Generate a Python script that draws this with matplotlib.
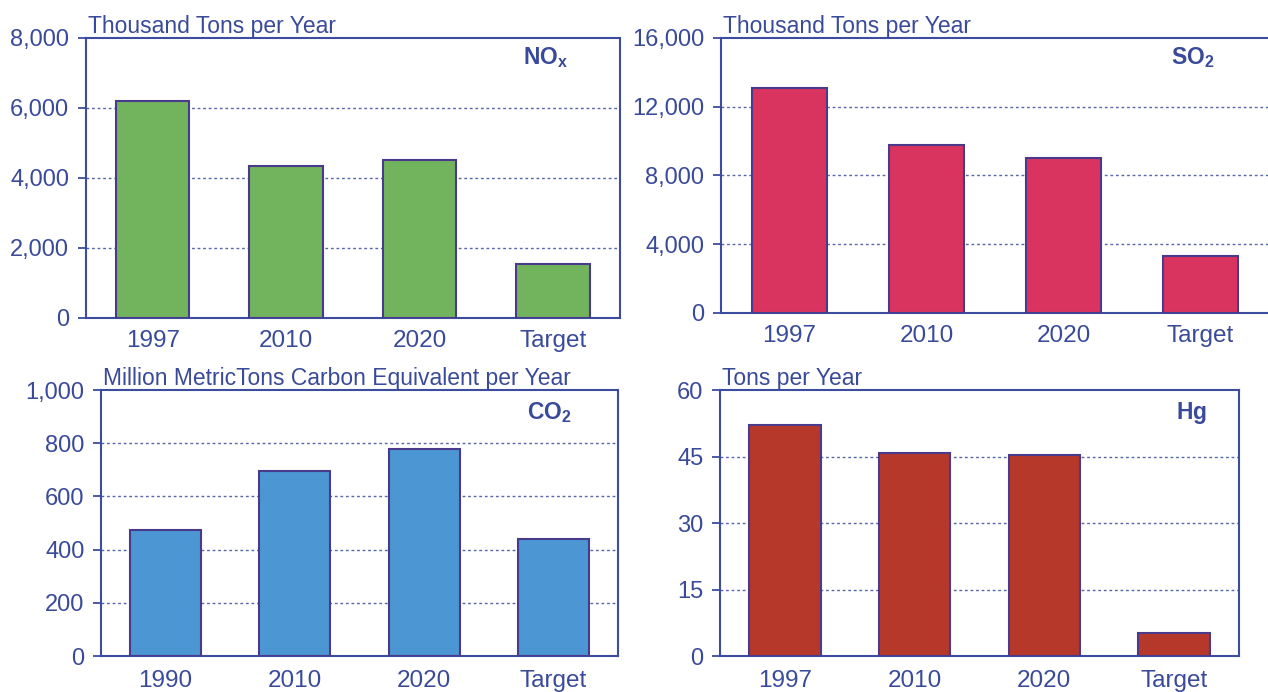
import matplotlib
matplotlib.use("Agg")
import matplotlib.pyplot as plt

plt.rcParams['font.family'] = ['Liberation Sans', 'DejaVu Sans']
plt.rcParams['mathtext.fontset'] = 'custom'
plt.rcParams['mathtext.rm'] = 'Liberation Sans'
plt.rcParams['mathtext.bf'] = 'Liberation Sans:bold'

TEXT = '#3a4a9a'
SPINE = '#3d4c9e'
EDGE = '#4a3a8c'

# NOx panel
nox_cats = ['1997', '2010', '2020', 'Target']
nox_vals = [6200, 4350, 4500, 1550]
nox_ticks = [0, 2000, 4000, 6000, 8000]

# SO2 panel
so2_cats = ['1997', '2010', '2020', 'Target']
so2_vals = [13100, 9750, 9000, 3300]
so2_ticks = [0, 4000, 8000, 12000, 16000]

# CO2 panel
co2_cats = ['1990', '2010', '2020', 'Target']
co2_vals = [475, 695, 780, 440]
co2_ticks = [0, 200, 400, 600, 800, 1000]

# Hg panel
hg_cats = ['1997', '2010', '2020', 'Target']
hg_vals = [52, 45.8, 45.3, 5.2]
hg_ticks = [0, 15, 30, 45, 60]

panels = [
    dict(rect=[0.0678, 0.5405, 0.4211, 0.4046], cats=nox_cats, vals=nox_vals,
         ticks=nox_ticks, color='#72b35e', unit='Thousand Tons per Year',
         gas=r'$\mathbf{NO_x}$', gpos=(0.86, 0.93), xpad=9),
    dict(rect=[0.5686, 0.5477, 0.4322, 0.3974], cats=so2_cats, vals=so2_vals,
         ticks=so2_ticks, color='#d93360', unit='Thousand Tons per Year',
         gas=r'$\mathbf{SO_2}$', gpos=(0.86, 0.93), xpad=9),
    dict(rect=[0.0797, 0.0520, 0.4077, 0.3844], cats=co2_cats, vals=co2_vals,
         ticks=co2_ticks, color='#4b96d3', unit='Million MetricTons Carbon Equivalent per Year',
         gas=r'$\mathbf{CO_2}$', gpos=(0.868, 0.914), xpad=10),
    dict(rect=[0.5678, 0.0520, 0.4093, 0.3844], cats=hg_cats, vals=hg_vals,
         ticks=hg_ticks, color='#b5382b', unit='Tons per Year',
         gas=r'$\mathbf{Hg}$', gpos=(0.909, 0.914), xpad=10),
]

fig = plt.figure(figsize=(12.68, 6.92), dpi=100)

for p in panels:
    ax = fig.add_axes(p['rect'])
    x = range(len(p['cats']))
    ax.bar(x, p['vals'], width=0.55, color=p['color'], edgecolor=EDGE,
           linewidth=1.5, zorder=3)
    ax.set_xlim(-0.5, len(p['cats']) - 0.5)
    ax.set_ylim(p['ticks'][0], p['ticks'][-1])
    ax.set_xticks(list(x))
    ax.set_xticklabels(p['cats'])
    ax.set_yticks(p['ticks'])
    ax.set_yticklabels([f'{t:,}' for t in p['ticks']])
    ax.tick_params(axis='x', length=0, pad=p['xpad'], labelsize=17.5,
                   labelcolor=TEXT)
    ax.tick_params(axis='y', length=6, width=1.3, color=SPINE, pad=6,
                   labelsize=17, labelcolor=TEXT)
    for s in ax.spines.values():
        s.set_color(SPINE)
        s.set_linewidth(1.5)
    for t in p['ticks'][1:-1]:
        ax.axhline(t, color='#5566aa', lw=1, ls=(0, (2, 2)), zorder=1)
    ax.text(0.003, 1.0, p['unit'], transform=ax.transAxes, ha='left',
            va='bottom', fontsize=16.5, color=TEXT)
    ax.text(p['gpos'][0], p['gpos'][1], p['gas'], transform=ax.transAxes,
            ha='center', va='center', fontsize=16.5, color=TEXT)

fig.savefig('out.png', dpi=100)
